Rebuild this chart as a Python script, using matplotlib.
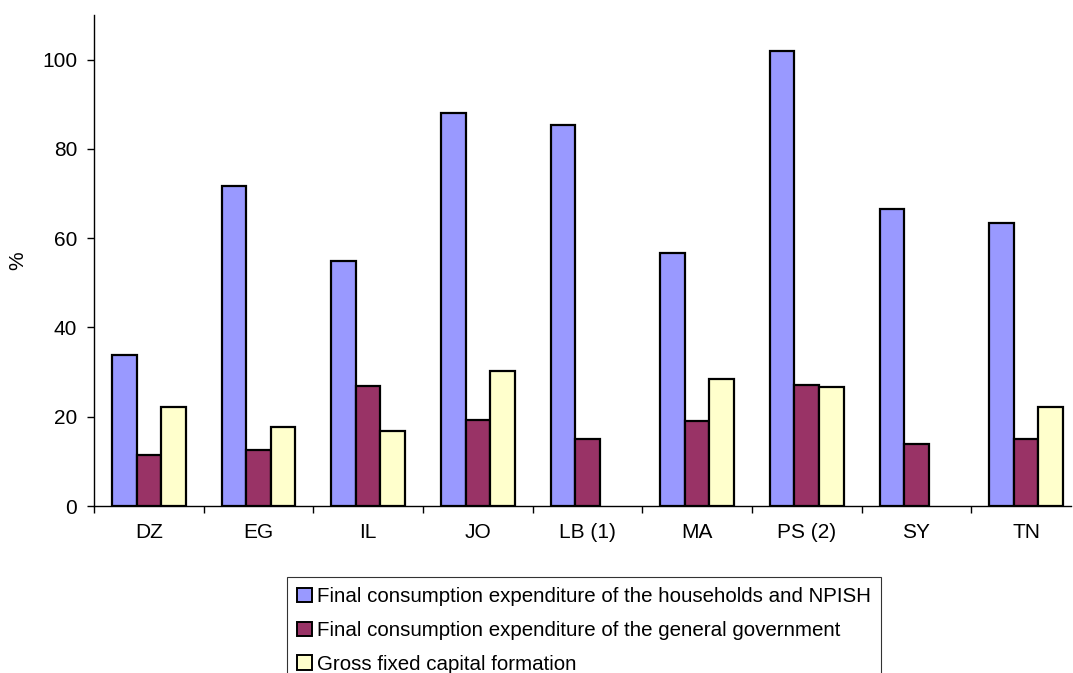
import numpy as np
import matplotlib.pyplot as plt

plt.rcParams['font.family'] = ['Liberation Sans', 'DejaVu Sans']

# values (%)
countries = ['DZ', 'EG', 'IL', 'JO', 'LB (1)', 'MA', 'PS (2)', 'SY', 'TN']
households = [33.8, 71.6, 55.0, 88.0, 85.4, 56.6, 101.9, 66.5, 63.3]
government = [11.4, 12.6, 26.9, 19.3, 14.9, 19.1, 27.1, 13.8, 15.0]
capital = [22.2, 17.8, 16.7, 30.2, np.nan, 28.4, 26.7, np.nan, 22.2]

series_names = ['Final consumption expenditure of the households and NPISH',
                'Final consumption expenditure of the general government',
                'Gross fixed capital formation']
colors = ['#9999FF', '#993366', '#FFFFCC']

fig = plt.figure(figsize=(10.73, 6.73), dpi=100)
ax = fig.add_axes([94 / 1073, 1 - 506 / 673, (1071 - 94) / 1073, (506 - 15) / 673])

x = np.arange(len(countries))
w = 0.224
for i, (vals, name, c) in enumerate(zip([households, government, capital], series_names, colors)):
    ax.bar(x + (i - 1) * w, vals, width=w, color=c, edgecolor='black',
           linewidth=1.6, label=name)

ax.set_xlim(-0.5, 8.41)
ax.set_ylim(0, 110)
ax.set_yticks([0, 20, 40, 60, 80, 100])
ax.tick_params(axis='y', labelsize=15, length=5, width=1, direction='out', pad=7)

# tick marks on category boundaries, labels at centres
ax.set_xticks(np.arange(len(countries)) - 0.5)
ax.set_xticklabels([])
ax.tick_params(axis='x', which='major', length=5, width=1, direction='out')
ax.set_xticks(x, minor=True)
ax.set_xticklabels(countries, minor=True)
ax.tick_params(axis='x', which='minor', length=0, labelsize=15, pad=12)

for s in ['top', 'right']:
    ax.spines[s].set_visible(False)
for s in ['left', 'bottom']:
    ax.spines[s].set_linewidth(1)

ax.set_ylabel('%', fontsize=15)
ax.yaxis.set_label_coords(-0.0686, 0.5)

leg = fig.legend(loc='upper left', bbox_to_anchor=(287 / 1073, 1 - 577 / 673),
                 fontsize=14.8, frameon=True, fancybox=False, edgecolor='black',
                 handlelength=0.7, handleheight=0.7, handletextpad=0.25,
                 labelspacing=0.72, borderpad=0.5, borderaxespad=0)
leg.get_frame().set_linewidth(0.8)
for h in leg.legend_handles:
    h.set_linewidth(1.4)

fig.savefig('out.png', dpi=100)
